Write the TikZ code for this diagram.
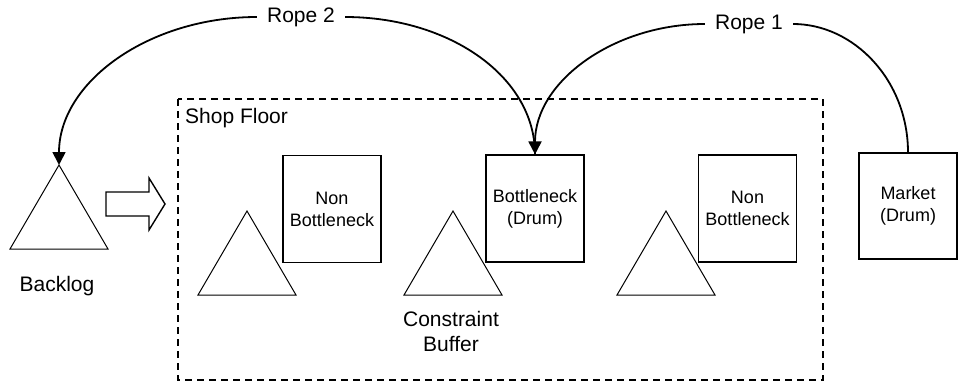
\documentclass[tikz,border=0pt]{standalone}
\usepackage{fontspec}
\setmainfont{Liberation Sans}
\usetikzlibrary{arrows.meta}
\begin{document}
\begin{tikzpicture}[x=1pt,y=-1pt,
  lbl/.style={font=\fontsize{18}{22}\selectfont, align=center, inner sep=0pt},
  biglbl/.style={font=\fontsize{21}{25}\selectfont, align=center, inner sep=0pt},
  boxnode/.style={draw, line width=1.1pt, minimum width=98pt, minimum height=107pt, inner sep=0pt, lbl},
  tri/.style={draw, line width=1pt},
  rope/.style={line width=1.8pt},
  tip/.style={-{Triangle[length=13pt,width=13pt]}},
  ropelbl/.style={biglbl, fill=white, inner xsep=10pt, inner ysep=2pt}
]
\useasboundingbox (0,0) rectangle (959,388);
% shop floor frame
\draw[line width=1.6pt, dash pattern=on 7pt off 5pt] (178,99) rectangle (823,380);
\node[biglbl, anchor=west] (shop) at (185,118) {Shop Floor};
% triangles
\draw[tri] (59,165) coordinate (bl) -- (108,249) -- (10,249) -- cycle;
\draw[tri] (247,211) coordinate (t1) -- (296,295) -- (198,295) -- cycle;
\draw[tri] (453,211) coordinate (t2) -- (502,295) -- (404,295) -- cycle;
\draw[tri] (666,211) coordinate (t3) -- (715,295) -- (617,295) -- cycle;
\node[biglbl] (backlog) at (57,286) {Backlog};
\node[biglbl] (cbuf) at (451,331) {Constraint\\Buffer};
% hollow block arrow
\draw[line width=1.4pt] (106,192) -- (149,192) -- (149,178) -- (165,204) -- (149,230) -- (149,216) -- (106,216) -- cycle;
% boxes
\node[boxnode] (nb1) at (332,209) {Non\\Bottleneck};
\node[boxnode] (bott) at (535,208.5) {Bottleneck\\(Drum)};
\node[boxnode] (nb2) at (747.5,208.5) {Non\\Bottleneck};
\node[boxnode, minimum height=106pt] (market) at (908,206) {Market\\(Drum)};
% ropes
\node[ropelbl] (r2) at (301,17) {Rope 2};
\node[ropelbl] (r1) at (749,24) {Rope 1};
\draw[rope] (r2.east) .. controls +(104,0) and +(0,-78) .. (bott.north);
\draw[rope,tip] (r2.west) .. controls +(-108,0) and +(0,-83) .. (bl);
\draw[rope] (r1.east) .. controls +(61,0) and +(0,-72) .. (market.north);
\draw[rope,tip] (r1.west) .. controls +(-91,0) and +(0,-73) .. (bott.north);
\end{tikzpicture}
\end{document}
